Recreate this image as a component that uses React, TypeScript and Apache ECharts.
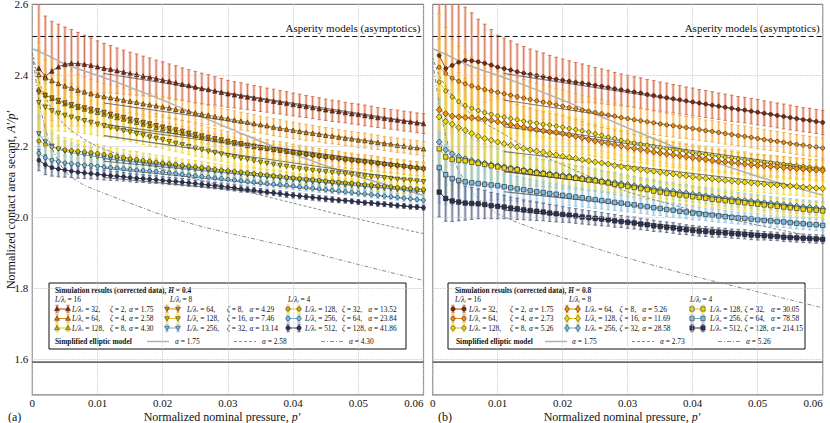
import React, { useEffect, useRef } from "react";
import * as echarts from "echarts";

const FONT = "Liberation Serif";
const LEG_FS = 7.4;
const LEG_SUB_FS = 5.0;
const LEG_GAP = 2.5;

// ---------- axes ----------
const X_MIN = 0, X_MAX = 0.06, X_STEP = 0.01;
const Y_MIN = 1.5, Y_MAX = 2.6, Y_STEP = 0.1;
const Y_GRID = [1.6, 1.8, 2.0, 2.2, 2.4];
const ASPERITY = 2.507;
const PERSSON = 1.592;

const PRESSURE = [
  0.001, 0.002, 0.003, 0.004, 0.005, 0.006, 0.007, 0.008, 0.009, 0.010,
  0.011, 0.012, 0.013, 0.014, 0.015, 0.016, 0.017, 0.018, 0.019, 0.020,
  0.021, 0.022, 0.023, 0.024, 0.025, 0.026, 0.027, 0.028, 0.029, 0.030,
  0.031, 0.032, 0.033, 0.034, 0.035, 0.036, 0.037, 0.038, 0.039, 0.040,
  0.041, 0.042, 0.043, 0.044, 0.045, 0.046, 0.047, 0.048, 0.049, 0.050,
  0.051, 0.052, 0.053, 0.054, 0.055, 0.056, 0.057, 0.058, 0.059, 0.060,
];

// ---------- left panel (H = 0.4) ----------
const L_S32 = [
  2.420, 2.397, 2.412, 2.424, 2.431, 2.434, 2.433, 2.431, 2.428, 2.424,
  2.420, 2.417, 2.413, 2.409, 2.405, 2.402, 2.398, 2.395, 2.391, 2.387,
  2.383, 2.379, 2.375, 2.371, 2.367, 2.363, 2.360, 2.356, 2.352, 2.348,
  2.345, 2.342, 2.339, 2.336, 2.333, 2.330, 2.327, 2.324, 2.321, 2.318,
  2.315, 2.312, 2.309, 2.306, 2.303, 2.300, 2.298, 2.295, 2.292, 2.290,
  2.287, 2.284, 2.281, 2.279, 2.276, 2.274, 2.271, 2.269, 2.266, 2.264,
];
const L_S64_UP = [
  2.402, 2.393, 2.385, 2.377, 2.370, 2.364, 2.358, 2.353, 2.348, 2.344,
  2.340, 2.337, 2.334, 2.330, 2.327, 2.324, 2.320, 2.317, 2.314, 2.311,
  2.308, 2.304, 2.301, 2.298, 2.294, 2.291, 2.288, 2.284, 2.281, 2.278,
  2.274, 2.271, 2.268, 2.264, 2.261, 2.258, 2.254, 2.251, 2.248, 2.245,
  2.242, 2.239, 2.237, 2.234, 2.231, 2.229, 2.226, 2.223, 2.221, 2.218,
  2.216, 2.213, 2.211, 2.208, 2.206, 2.203, 2.201, 2.198, 2.196, 2.193,
];
const L_S128_UP = [
  2.360, 2.345, 2.335, 2.327, 2.320, 2.315, 2.310, 2.305, 2.300, 2.296,
  2.291, 2.286, 2.281, 2.277, 2.272, 2.268, 2.263, 2.259, 2.254, 2.250,
  2.246, 2.242, 2.238, 2.235, 2.231, 2.227, 2.223, 2.219, 2.216, 2.212,
  2.209, 2.206, 2.202, 2.199, 2.196, 2.194, 2.191, 2.189, 2.186, 2.184,
  2.182, 2.179, 2.177, 2.174, 2.172, 2.170, 2.168, 2.165, 2.163, 2.161,
  2.159, 2.157, 2.154, 2.152, 2.150, 2.148, 2.146, 2.144, 2.142, 2.140,
];
const L_S64_DN = [
  2.352, 2.343, 2.336, 2.329, 2.322, 2.317, 2.312, 2.308, 2.304, 2.300,
  2.295, 2.290, 2.285, 2.281, 2.276, 2.272, 2.267, 2.263, 2.258, 2.254,
  2.250, 2.246, 2.242, 2.237, 2.233, 2.229, 2.225, 2.221, 2.218, 2.214,
  2.210, 2.207, 2.203, 2.200, 2.196, 2.193, 2.190, 2.188, 2.185, 2.182,
  2.179, 2.176, 2.173, 2.171, 2.168, 2.166, 2.164, 2.161, 2.159, 2.157,
  2.155, 2.153, 2.150, 2.148, 2.146, 2.144, 2.142, 2.139, 2.137, 2.135,
];
const L_S128_DN = [
  2.323, 2.310, 2.300, 2.293, 2.287, 2.282, 2.277, 2.272, 2.267, 2.262,
  2.258, 2.253, 2.249, 2.244, 2.240, 2.235, 2.231, 2.226, 2.222, 2.218,
  2.213, 2.208, 2.204, 2.199, 2.194, 2.190, 2.186, 2.182, 2.178, 2.174,
  2.170, 2.166, 2.163, 2.159, 2.155, 2.152, 2.149, 2.146, 2.143, 2.140,
  2.137, 2.135, 2.132, 2.130, 2.128, 2.126, 2.124, 2.122, 2.120, 2.118,
  2.116, 2.114, 2.113, 2.111, 2.109, 2.107, 2.105, 2.104, 2.102, 2.100,
];
const L_S256_DN = [
  2.235, 2.212, 2.200, 2.192, 2.186, 2.182, 2.179, 2.176, 2.173, 2.170,
  2.167, 2.165, 2.162, 2.160, 2.157, 2.155, 2.153, 2.150, 2.148, 2.146,
  2.144, 2.142, 2.140, 2.138, 2.136, 2.134, 2.132, 2.130, 2.128, 2.126,
  2.124, 2.122, 2.120, 2.118, 2.116, 2.114, 2.112, 2.110, 2.108, 2.106,
  2.104, 2.102, 2.100, 2.099, 2.097, 2.095, 2.093, 2.091, 2.090, 2.088,
  2.086, 2.085, 2.083, 2.082, 2.080, 2.078, 2.077, 2.075, 2.074, 2.072,
];
const L_S128_C = [
  2.215, 2.205, 2.198, 2.194, 2.190, 2.188, 2.186, 2.184, 2.182, 2.180,
  2.177, 2.174, 2.171, 2.168, 2.165, 2.163, 2.160, 2.158, 2.155, 2.153,
  2.151, 2.149, 2.146, 2.144, 2.142, 2.140, 2.138, 2.135, 2.133, 2.131,
  2.129, 2.127, 2.125, 2.123, 2.121, 2.119, 2.117, 2.115, 2.113, 2.111,
  2.109, 2.107, 2.106, 2.104, 2.102, 2.100, 2.099, 2.097, 2.096, 2.094,
  2.092, 2.091, 2.089, 2.088, 2.086, 2.084, 2.083, 2.081, 2.080, 2.078,
];
const L_S256_C = [
  2.180, 2.168, 2.161, 2.157, 2.153, 2.151, 2.149, 2.147, 2.146, 2.144,
  2.142, 2.140, 2.139, 2.137, 2.135, 2.133, 2.132, 2.130, 2.129, 2.127,
  2.125, 2.123, 2.121, 2.119, 2.117, 2.115, 2.113, 2.111, 2.109, 2.107,
  2.105, 2.103, 2.101, 2.099, 2.097, 2.095, 2.093, 2.092, 2.090, 2.088,
  2.086, 2.084, 2.082, 2.080, 2.078, 2.076, 2.074, 2.072, 2.070, 2.068,
  2.066, 2.064, 2.062, 2.060, 2.058, 2.056, 2.054, 2.052, 2.050, 2.048,
];
const L_S512_C = [
  2.161, 2.148, 2.140, 2.136, 2.133, 2.130, 2.127, 2.125, 2.123, 2.121,
  2.119, 2.117, 2.116, 2.114, 2.112, 2.110, 2.109, 2.107, 2.106, 2.104,
  2.102, 2.101, 2.099, 2.097, 2.095, 2.093, 2.091, 2.089, 2.087, 2.085,
  2.083, 2.080, 2.078, 2.076, 2.073, 2.071, 2.069, 2.067, 2.064, 2.062,
  2.060, 2.058, 2.056, 2.054, 2.052, 2.050, 2.048, 2.047, 2.045, 2.043,
  2.041, 2.040, 2.038, 2.037, 2.035, 2.033, 2.032, 2.030, 2.029, 2.027,
];

// error half-widths, in thousandths
const L_S32_ERR = [
  190, 170, 140, 120, 105, 95, 88, 82, 77, 73, 70, 67, 64, 62, 60, 58, 56, 54, 52, 51,
  49, 48, 46, 45, 44, 43, 42, 40, 39, 38, 37, 37, 36, 35, 35, 34, 34, 33, 33, 32,
  32, 31, 31, 31, 30, 30, 30, 29, 29, 29, 29, 29, 28, 28, 28, 28, 28, 28, 28, 28,
];
const L_S64_UP_ERR = [
  90, 75, 65, 58, 52, 48, 45, 42, 40, 38, 37, 36, 35, 34, 33, 33, 32, 32, 31, 30,
  30, 29, 29, 28, 28, 28, 27, 27, 26, 26, 26, 25, 25, 25, 24, 24, 24, 24, 23, 23,
  23, 23, 22, 22, 22, 22, 21, 21, 21, 21, 21, 21, 20, 20, 20, 20, 20, 20, 20, 20,
];
const L_S128_UP_ERR = [
  60, 52, 45, 41, 38, 35, 33, 31, 29, 28, 27, 26, 25, 24, 23, 22, 22, 21, 21, 20,
  20, 19, 19, 19, 18, 18, 18, 17, 17, 17, 17, 16, 16, 16, 16, 16, 15, 15, 15, 15,
  15, 15, 14, 14, 14, 14, 14, 14, 14, 14, 14, 13, 13, 13, 13, 13, 13, 13, 13, 13,
];
const L_S64_DN_ERR = [
  120, 100, 80, 72, 65, 60, 55, 51, 48, 45, 43, 41, 40, 38, 37, 36, 35, 34, 34, 33,
  32, 32, 31, 31, 30, 30, 29, 29, 28, 28, 28, 27, 27, 26, 26, 26, 25, 25, 25, 24,
  24, 24, 23, 23, 23, 22, 22, 22, 22, 21, 21, 21, 21, 21, 20, 20, 20, 20, 20, 20,
];
const L_S128_DN_ERR = [
  80, 67, 55, 50, 45, 42, 39, 36, 34, 32, 31, 30, 29, 28, 27, 26, 26, 25, 25, 24,
  24, 23, 23, 22, 22, 21, 21, 21, 20, 20, 20, 19, 19, 19, 19, 18, 18, 18, 18, 18,
  17, 17, 17, 17, 17, 17, 16, 16, 16, 16, 16, 16, 16, 16, 16, 16, 16, 16, 16, 16,
];
const L_S256_DN_ERR = [
  50, 42, 37, 33, 30, 28, 26, 25, 23, 22, 21, 21, 20, 19, 19, 18, 18, 17, 17, 16,
  16, 16, 15, 15, 15, 15, 14, 14, 14, 14, 14, 13, 13, 13, 13, 13, 13, 12, 12, 12,
  12, 12, 12, 12, 12, 12, 12, 11, 11, 11, 11, 11, 11, 11, 11, 11, 11, 11, 11, 11,
];
const L_S128_C_ERR = [
  60, 50, 43, 38, 35, 33, 31, 29, 27, 26, 25, 24, 24, 23, 22, 22, 21, 21, 20, 20,
  19, 19, 18, 18, 18, 17, 17, 17, 16, 16, 16, 16, 16, 15, 15, 15, 15, 15, 14, 14,
  14, 14, 14, 14, 14, 14, 13, 13, 13, 13, 13, 13, 13, 13, 13, 13, 13, 13, 13, 13,
];
const L_S256_C_ERR = [
  35, 30, 26, 24, 22, 21, 20, 19, 18, 17, 17, 16, 16, 15, 15, 14, 14, 14, 13, 13,
  13, 13, 12, 12, 12, 12, 11, 11, 11, 11, 11, 11, 11, 10, 10, 10, 10, 10, 10, 10,
  10, 10, 10, 10, 9, 9, 9, 9, 9, 9, 9, 9, 9, 9, 9, 9, 9, 9, 9, 9,
];
const L_S512_C_ERR = [
  30, 28, 24, 22, 20, 18, 17, 16, 15, 14, 14, 13, 13, 12, 12, 12, 11, 11, 11, 10,
  10, 10, 10, 10, 9, 9, 9, 9, 9, 9, 9, 9, 8, 8, 8, 8, 8, 8, 8, 8,
  8, 8, 8, 8, 8, 8, 7, 7, 7, 7, 7, 7, 7, 7, 7, 7, 7, 7, 7, 7,
];

// ---------- right panel (H = 0.8) ----------
const R_S32 = [
  2.456, 2.419, 2.428, 2.437, 2.442, 2.441, 2.438, 2.434, 2.429, 2.423,
  2.419, 2.415, 2.410, 2.406, 2.402, 2.399, 2.396, 2.392, 2.389, 2.386,
  2.383, 2.380, 2.378, 2.375, 2.372, 2.369, 2.366, 2.362, 2.359, 2.356,
  2.353, 2.350, 2.346, 2.343, 2.340, 2.337, 2.334, 2.331, 2.328, 2.325,
  2.322, 2.319, 2.316, 2.313, 2.310, 2.307, 2.304, 2.302, 2.299, 2.296,
  2.293, 2.290, 2.287, 2.284, 2.281, 2.278, 2.275, 2.273, 2.270, 2.267,
];
const R_S64_C = [
  2.423, 2.405, 2.392, 2.383, 2.376, 2.370, 2.365, 2.360, 2.356, 2.352,
  2.348, 2.344, 2.340, 2.336, 2.332, 2.328, 2.324, 2.321, 2.317, 2.313,
  2.309, 2.306, 2.302, 2.299, 2.295, 2.292, 2.288, 2.285, 2.281, 2.278,
  2.275, 2.272, 2.269, 2.266, 2.263, 2.260, 2.258, 2.255, 2.253, 2.250,
  2.247, 2.244, 2.242, 2.239, 2.236, 2.233, 2.230, 2.228, 2.225, 2.222,
  2.219, 2.216, 2.214, 2.211, 2.208, 2.205, 2.203, 2.200, 2.198, 2.195,
];
const R_S128_C = [
  2.381, 2.356, 2.339, 2.326, 2.315, 2.307, 2.301, 2.295, 2.290, 2.285,
  2.282, 2.278, 2.275, 2.271, 2.268, 2.265, 2.262, 2.260, 2.257, 2.254,
  2.250, 2.247, 2.244, 2.240, 2.235, 2.231, 2.226, 2.222, 2.217, 2.213,
  2.209, 2.206, 2.203, 2.199, 2.196, 2.193, 2.190, 2.188, 2.185, 2.182,
  2.179, 2.177, 2.174, 2.172, 2.169, 2.167, 2.164, 2.162, 2.159, 2.157,
  2.155, 2.153, 2.151, 2.149, 2.147, 2.145, 2.143, 2.141, 2.139, 2.137,
];
const R_S64_D = [
  2.303, 2.292, 2.285, 2.283, 2.281, 2.280, 2.278, 2.276, 2.273, 2.269,
  2.265, 2.261, 2.257, 2.254, 2.250, 2.247, 2.244, 2.241, 2.239, 2.236,
  2.232, 2.228, 2.224, 2.219, 2.215, 2.211, 2.208, 2.204, 2.201, 2.197,
  2.194, 2.191, 2.188, 2.184, 2.181, 2.178, 2.176, 2.173, 2.171, 2.168,
  2.165, 2.163, 2.160, 2.158, 2.156, 2.154, 2.152, 2.150, 2.148, 2.146,
  2.145, 2.143, 2.142, 2.140, 2.139, 2.137, 2.136, 2.134, 2.133, 2.132,
];
const R_S128_D = [
  2.283, 2.270, 2.262, 2.253, 2.245, 2.236, 2.228, 2.222, 2.217, 2.212,
  2.207, 2.203, 2.198, 2.194, 2.190, 2.186, 2.183, 2.179, 2.176, 2.172,
  2.169, 2.166, 2.162, 2.159, 2.156, 2.153, 2.150, 2.146, 2.143, 2.140,
  2.137, 2.135, 2.132, 2.130, 2.127, 2.124, 2.122, 2.119, 2.117, 2.114,
  2.112, 2.110, 2.108, 2.106, 2.104, 2.102, 2.100, 2.099, 2.097, 2.095,
  2.094, 2.092, 2.091, 2.089, 2.088, 2.087, 2.085, 2.084, 2.082, 2.081,
];
const R_S256_D = [
  2.212, 2.190, 2.179, 2.171, 2.165, 2.160, 2.156, 2.152, 2.148, 2.145,
  2.142, 2.139, 2.136, 2.133, 2.130, 2.128, 2.125, 2.123, 2.120, 2.118,
  2.116, 2.113, 2.111, 2.108, 2.106, 2.103, 2.100, 2.098, 2.095, 2.092,
  2.089, 2.086, 2.084, 2.081, 2.078, 2.075, 2.073, 2.070, 2.068, 2.065,
  2.063, 2.060, 2.058, 2.055, 2.053, 2.051, 2.049, 2.047, 2.045, 2.043,
  2.041, 2.039, 2.037, 2.035, 2.033, 2.031, 2.029, 2.028, 2.026, 2.024,
];
const R_S128_S = [
  2.193, 2.170, 2.163, 2.161, 2.159, 2.155, 2.152, 2.149, 2.145, 2.142,
  2.139, 2.136, 2.134, 2.131, 2.128, 2.125, 2.123, 2.120, 2.118, 2.115,
  2.113, 2.110, 2.108, 2.105, 2.103, 2.100, 2.097, 2.093, 2.090, 2.087,
  2.084, 2.081, 2.078, 2.074, 2.071, 2.068, 2.066, 2.063, 2.061, 2.058,
  2.056, 2.054, 2.051, 2.049, 2.047, 2.045, 2.043, 2.041, 2.039, 2.037,
  2.035, 2.033, 2.031, 2.029, 2.027, 2.025, 2.023, 2.021, 2.020, 2.018,
];
const R_S256_S = [
  2.140, 2.120, 2.109, 2.104, 2.100, 2.097, 2.095, 2.093, 2.091, 2.089,
  2.086, 2.083, 2.080, 2.078, 2.075, 2.072, 2.070, 2.067, 2.065, 2.062,
  2.060, 2.057, 2.055, 2.052, 2.050, 2.047, 2.045, 2.042, 2.040, 2.037,
  2.035, 2.032, 2.030, 2.027, 2.025, 2.022, 2.020, 2.017, 2.015, 2.012,
  2.010, 2.008, 2.006, 2.004, 2.002, 2.000, 1.998, 1.997, 1.995, 1.993,
  1.991, 1.990, 1.988, 1.987, 1.985, 1.983, 1.982, 1.980, 1.979, 1.977,
];
const R_S512_S = [
  2.071, 2.053, 2.046, 2.043, 2.040, 2.039, 2.038, 2.036, 2.033, 2.031,
  2.029, 2.026, 2.024, 2.021, 2.019, 2.017, 2.015, 2.012, 2.010, 2.008,
  2.006, 2.004, 2.001, 1.999, 1.997, 1.995, 1.993, 1.990, 1.988, 1.986,
  1.984, 1.981, 1.979, 1.976, 1.974, 1.972, 1.970, 1.967, 1.965, 1.963,
  1.961, 1.960, 1.958, 1.957, 1.956, 1.954, 1.953, 1.952, 1.950, 1.949,
  1.948, 1.947, 1.946, 1.944, 1.943, 1.942, 1.941, 1.940, 1.939, 1.938,
];

const R_S32_ERR = [
  250, 220, 190, 170, 150, 135, 120, 110, 100, 90, 86, 82, 78, 75, 72, 69, 67, 64, 62, 60,
  58, 56, 54, 52, 50, 49, 48, 46, 45, 44, 43, 43, 42, 42, 41, 41, 40, 40, 39, 39,
  38, 38, 38, 37, 37, 37, 36, 36, 36, 36, 35, 35, 35, 35, 35, 34, 34, 34, 34, 34,
];
const R_S64_C_ERR = [
  150, 130, 110, 98, 90, 82, 75, 70, 65, 60, 58, 56, 54, 52, 50, 49, 48, 47, 46, 45,
  44, 43, 42, 41, 40, 39, 38, 37, 36, 35, 35, 34, 34, 33, 33, 32, 32, 32, 31, 31,
  31, 30, 30, 30, 30, 29, 29, 29, 29, 29, 29, 28, 28, 28, 28, 28, 28, 28, 28, 28,
];
const R_S128_C_ERR = [
  120, 105, 92, 80, 70, 65, 60, 56, 53, 50, 48, 46, 44, 42, 41, 40, 39, 38, 36, 35,
  34, 33, 32, 31, 30, 30, 29, 29, 28, 28, 27, 27, 26, 26, 26, 25, 25, 25, 24, 24,
  24, 24, 23, 23, 23, 23, 23, 23, 22, 22, 22, 22, 22, 22, 22, 22, 22, 22, 22, 22,
];
const R_S64_D_ERR = [
  200, 170, 140, 125, 110, 98, 88, 80, 75, 70, 67, 64, 61, 58, 56, 54, 53, 52, 51, 50,
  48, 47, 46, 45, 44, 43, 42, 41, 41, 40, 39, 38, 37, 37, 36, 35, 35, 34, 34, 33,
  33, 32, 32, 32, 31, 31, 31, 31, 30, 30, 30, 30, 30, 30, 30, 30, 30, 30, 30, 30,
];
const R_S128_D_ERR = [
  150, 130, 115, 100, 90, 82, 75, 70, 65, 60, 57, 54, 52, 50, 48, 46, 45, 43, 42, 40,
  39, 38, 37, 36, 35, 34, 33, 33, 32, 31, 31, 30, 30, 29, 29, 28, 28, 28, 27, 27,
  27, 26, 26, 26, 26, 26, 25, 25, 25, 25, 25, 25, 25, 25, 25, 25, 25, 25, 25, 25,
];
const R_S256_D_ERR = [
  120, 100, 88, 78, 70, 64, 60, 56, 53, 50, 47, 45, 43, 41, 40, 39, 38, 37, 36, 35,
  34, 33, 32, 31, 30, 29, 29, 28, 27, 27, 26, 26, 25, 25, 24, 24, 24, 23, 23, 23,
  22, 22, 22, 22, 21, 21, 21, 21, 21, 21, 21, 20, 20, 20, 20, 20, 20, 20, 20, 20,
];
const R_S128_S_ERR = [
  120, 100, 88, 78, 70, 64, 60, 56, 53, 50, 47, 45, 43, 41, 40, 39, 38, 37, 36, 35,
  34, 33, 32, 31, 30, 29, 29, 28, 28, 27, 27, 26, 26, 26, 25, 25, 25, 24, 24, 24,
  24, 23, 23, 23, 23, 23, 22, 22, 22, 22, 22, 22, 22, 22, 22, 22, 22, 22, 22, 22,
];
const R_S256_S_ERR = [
  100, 85, 74, 66, 60, 55, 50, 46, 43, 40, 38, 36, 35, 33, 32, 31, 30, 29, 29, 28,
  27, 26, 26, 25, 25, 24, 24, 23, 23, 22, 22, 21, 21, 21, 20, 20, 20, 19, 19, 19,
  18, 18, 18, 18, 17, 17, 17, 17, 17, 17, 16, 16, 16, 16, 16, 16, 16, 16, 16, 16,
];
const R_S512_S_ERR = [
  70, 64, 58, 53, 48, 45, 42, 40, 37, 35, 33, 31, 30, 28, 27, 26, 25, 24, 23, 22,
  21, 21, 20, 20, 19, 19, 18, 18, 17, 17, 17, 16, 16, 16, 15, 15, 15, 15, 14, 14,
  14, 14, 14, 13, 13, 13, 13, 13, 13, 13, 12, 12, 12, 12, 12, 12, 12, 12, 12, 12,
];

// ---------- linear fits of the tails (start, end) ----------
const FIT_P = [0.011, 0.06];
const L_FIT_START = [2.405, 2.322, 2.262, 2.255, 2.230, 2.158, 2.165, 2.138, 2.112];
const L_FIT_END = [2.264, 2.193, 2.140, 2.135, 2.100, 2.072, 2.078, 2.048, 2.027];
const R_FIT_START = [2.405, 2.330, 2.262, 2.255, 2.185, 2.128, 2.130, 2.072, 2.020];
const R_FIT_END = [2.267, 2.195, 2.137, 2.132, 2.081, 2.024, 2.018, 1.977, 1.938];

// ---------- simplified elliptic model ----------
const ELL_P = [0, 0.001, 0.002, 0.003, 0.005, 0.0075, 0.01, 0.015, 0.02, 0.025, 0.03, 0.04, 0.05, 0.06];
const ELL_A175 = [2.475, 2.467, 2.459, 2.450, 2.432, 2.415, 2.400, 2.366, 2.330, 2.291, 2.252, 2.178, 2.115, 2.062];
const ELL_L_A258 = [2.465, 2.385, 2.340, 2.305, 2.260, 2.225, 2.200, 2.165, 2.135, 2.108, 2.085, 2.040, 1.995, 1.954];
const ELL_L_A430 = [2.465, 2.330, 2.250, 2.195, 2.130, 2.095, 2.075, 2.040, 2.006, 1.979, 1.956, 1.914, 1.867, 1.822];
const ELL_R_A273 = [2.450, 2.400, 2.370, 2.345, 2.305, 2.270, 2.245, 2.190, 2.148, 2.108, 2.072, 2.020, 1.978, 1.940];
const ELL_R_A526 = [2.440, 2.320, 2.230, 2.170, 2.100, 2.045, 2.010, 1.972, 1.943, 1.913, 1.885, 1.835, 1.790, 1.745];

// ---------- legend labels ----------
const L_LEGEND = [
  [["32,", "2,", "1.75"], ["64,", "4,", "2.58"], ["128,", "8,", "4.30"]],
  [["64,", "8,", "4.29"], ["128,", "16,", "7.46"], ["256,", "32,", "13.14"]],
  [["128,", "32,", "13.52"], ["256,", "64,", "23.84"], ["512,", "128,", "41.86"]],
];
const R_LEGEND = [
  [["32,", "2,", "1.75"], ["64,", "4,", "2.73"], ["128,", "8,", "5.26"]],
  [["64,", "8,", "5.26"], ["128,", "16,", "11.69"], ["256,", "32,", "28.58"]],
  [["128,", "32,", "30.05"], ["256,", "64,", "78.58"], ["512,", "128,", "214.15"]],
];
const GROUP_LABELS = ["16", "8", "4"];
const L_ALPHAS = ["1.75", "2.58", "4.30"];
const R_ALPHAS = ["1.75", "2.73", "5.26"];

// ---------- styles ----------
const C = {
  red: { line: "#a3391a", err: "#d2603a", pale: "rgba(234,156,126,0.5)", fill: "#7e2a12" },
  orange: { line: "#d98a12", err: "#f2a232", pale: "rgba(249,200,120,0.45)", fill: "#c27e10" },
  yellow: { line: "#e2c200", err: "#f0d020", pale: "rgba(247,228,110,0.45)", fill: "#cdb400" },
  blue: { line: "#6aaed4", err: "#8ec4e2", pale: "rgba(160,206,232,0.5)", fill: "#7ab8dc" },
  navy: { line: "#2c3254", err: "#585e80", pale: "rgba(112,118,152,0.4)", fill: "#2c3254" },
};

type Spec = { y: number[]; err: number[]; c: any; symbol: string; rotate: number; size: number; shape: string };

const LEFT_SPECS: Spec[] = [
  { y: L_S32, err: L_S32_ERR, c: C.red, symbol: "triangle", rotate: 0, size: 4.5, shape: "tri" },
  { y: L_S64_UP, err: L_S64_UP_ERR, c: C.orange, symbol: "triangle", rotate: 0, size: 4.5, shape: "tri" },
  { y: L_S128_UP, err: L_S128_UP_ERR, c: C.yellow, symbol: "triangle", rotate: 0, size: 4.5, shape: "tri" },
  { y: L_S64_DN, err: L_S64_DN_ERR, c: C.orange, symbol: "triangle", rotate: 180, size: 4.5, shape: "triDown" },
  { y: L_S128_DN, err: L_S128_DN_ERR, c: C.yellow, symbol: "triangle", rotate: 180, size: 4.5, shape: "triDown" },
  { y: L_S256_DN, err: L_S256_DN_ERR, c: C.blue, symbol: "triangle", rotate: 180, size: 4.5, shape: "triDown" },
  { y: L_S128_C, err: L_S128_C_ERR, c: C.yellow, symbol: "circle", rotate: 0, size: 4, shape: "circle" },
  { y: L_S256_C, err: L_S256_C_ERR, c: C.blue, symbol: "circle", rotate: 0, size: 4, shape: "circle" },
  { y: L_S512_C, err: L_S512_C_ERR, c: C.navy, symbol: "circle", rotate: 0, size: 4, shape: "circle" },
];
const RIGHT_SPECS: Spec[] = [
  { y: R_S32, err: R_S32_ERR, c: C.red, symbol: "circle", rotate: 0, size: 4, shape: "circle" },
  { y: R_S64_C, err: R_S64_C_ERR, c: { ...C.orange, fill: "#ee8a10" }, symbol: "circle", rotate: 0, size: 4, shape: "circle" },
  { y: R_S128_C, err: R_S128_C_ERR, c: { ...C.yellow, fill: "#e6d010" }, symbol: "circle", rotate: 0, size: 4, shape: "circle" },
  { y: R_S64_D, err: R_S64_D_ERR, c: { ...C.orange, fill: "#f08c10" }, symbol: "diamond", rotate: 0, size: 6, shape: "diamond" },
  { y: R_S128_D, err: R_S128_D_ERR, c: { ...C.yellow, fill: "#e8d410" }, symbol: "diamond", rotate: 0, size: 6, shape: "diamond" },
  { y: R_S256_D, err: R_S256_D_ERR, c: C.blue, symbol: "diamond", rotate: 0, size: 6, shape: "diamond" },
  { y: R_S128_S, err: R_S128_S_ERR, c: { ...C.yellow, fill: "#e8d410" }, symbol: "rect", rotate: 0, size: 4.5, shape: "square" },
  { y: R_S256_S, err: R_S256_S_ERR, c: C.blue, symbol: "rect", rotate: 0, size: 4.5, shape: "square" },
  { y: R_S512_S, err: R_S512_S_ERR, c: C.navy, symbol: "rect", rotate: 0, size: 4.5, shape: "square" },
];

// ---------- layout of the two panels ----------
const GRIDS = [
  { left: 32.3, top: 4.3, width: 391.2, height: 390.5 },
  { left: 432.7, top: 4.3, width: 390, height: 390.5 },
];
const LEGEND_LAYOUT = [
  {
    box: [49, 283, 357, 66], title: 55, headers: [55, 170, 288], sym: [57, 167, 288],
    txt: [72, 187, 305], zeta: [110, 227, 342], alpha: [127, 247, 367],
    bottomLabel: 55, samples: [147, 234, 321], sampleTexts: [175, 262, 349],
  },
  {
    box: [448, 283, 357, 66], title: 455, headers: [455, 569, 690], sym: [453, 567, 692],
    txt: [469, 585, 710], zeta: [510, 612, 742], alpha: [528, 637, 766],
    bottomLabel: 456, samples: [545, 632, 718], sampleTexts: [572, 660, 746],
  },
];
const ROW_Y = { title: 290, header: 299.5, rows: [309, 318.5, 328], bottom: 341.5 };
const AXIS_TITLES = {
  y: { x: 11, y: 200 },
  x: [{ x: 222, y: 416.5 }, { x: 622, y: 416.5 }],
  panel: [{ x: 8, y: 416.5, text: "(a)" }, { x: 438, y: 416.5, text: "(b)" }],
};

const ELL_STYLES = [
  { color: "#b0b0b0", width: 1.5, type: "solid" as any },
  { color: "#8a8a8a", width: 1, type: [3, 2] as any },
  { color: "#8a8a8a", width: 1, type: [4, 2, 1, 2] as any },
];

// ---------- text measuring (for legend column alignment) ----------
let measureCtx: CanvasRenderingContext2D | null = null;
function tw(text: string, size: number, italic = false, bold = false) {
  if (!measureCtx) measureCtx = document.createElement("canvas").getContext("2d");
  if (!measureCtx) return text.length * size * 0.5;
  measureCtx.font = `${italic ? "italic " : ""}${bold ? "bold " : ""}${size}px ${FONT}`;
  return measureCtx.measureText(text).width;
}

function errorSeries(spec: Spec, g: number) {
  return {
    type: "custom",
    xAxisIndex: g,
    yAxisIndex: g,
    z: 1,
    silent: true,
    data: PRESSURE.map((p, i) => [p, spec.y[i], spec.err[i] / 1000]),
    encode: { x: 0, y: 1 },
    renderItem: (params: any, api: any) => {
      const x = api.value(0), y = api.value(1), e = api.value(2);
      const cs = params.coordSys;
      const top = api.coord([x, y + e]);
      const bot = api.coord([x, y - e]);
      const t = Math.max(top[1], cs.y);
      const b = Math.min(bot[1], cs.y + cs.height);
      const cx = top[0];
      const st = { stroke: spec.c.err, lineWidth: 0.8 };
      const children: any[] = [
        { type: "rect", shape: { x: cx - 1.5, y: t, width: 3, height: Math.max(0, b - t) }, style: { fill: spec.c.pale } },
        { type: "line", shape: { x1: cx, y1: t, x2: cx, y2: b }, style: st },
      ];
      if (top[1] >= cs.y) children.push({ type: "line", shape: { x1: cx - 1.8, y1: t, x2: cx + 1.8, y2: t }, style: st });
      if (bot[1] <= cs.y + cs.height) children.push({ type: "line", shape: { x1: cx - 1.8, y1: b, x2: cx + 1.8, y2: b }, style: st });
      return { type: "group", children };
    },
  };
}

function dataSeries(spec: Spec, g: number) {
  return {
    type: "line",
    xAxisIndex: g,
    yAxisIndex: g,
    z: 4,
    silent: true,
    data: PRESSURE.map((p, i) => [p, spec.y[i]]),
    symbol: spec.symbol,
    symbolSize: spec.size,
    symbolRotate: spec.rotate,
    lineStyle: { color: spec.c.line, width: 1 },
    itemStyle: { color: spec.c.fill, borderColor: "#1e1e1e", borderWidth: 0.6 },
  };
}

function fitSeries(start: number, end: number, g: number) {
  return {
    type: "line",
    xAxisIndex: g,
    yAxisIndex: g,
    z: 3,
    silent: true,
    symbol: "none",
    data: [[FIT_P[0], start], [FIT_P[1], end]],
    lineStyle: { color: "#4a4a4a", width: 1.1, opacity: 0.75 },
  };
}

function ellSeries(values: number[], style: any, g: number) {
  return {
    type: "line",
    xAxisIndex: g,
    yAxisIndex: g,
    z: 2,
    silent: true,
    symbol: "none",
    smooth: 0.3,
    data: ELL_P.map((p, i) => [p, values[i]]),
    lineStyle: { color: style.color, width: style.width, type: style.type },
  };
}

function refSeries(g: number) {
  return {
    type: "line",
    xAxisIndex: g,
    yAxisIndex: g,
    z: 2,
    silent: true,
    symbol: "none",
    data: [[X_MIN, PERSSON], [X_MAX, PERSSON]],
    lineStyle: { color: "#6a6a6a", width: 1.6 },
    markLine: {
      silent: true,
      symbol: "none",
      animation: false,
      data: [
        ...Y_GRID.map((v) => ({
          yAxis: v,
          lineStyle: { color: "#c4c4c4", type: "dotted", width: 0.9 },
          label: { show: false },
        })),
        {
          yAxis: ASPERITY,
          lineStyle: { color: "#111", type: [5, 3], width: 1.2 },
          label: {
            show: true, position: "insideEndTop", formatter: "Asperity models (asymptotics)",
            color: "#111", fontFamily: FONT, fontSize: 11, distance: 3,
          },
        },
        {
          yAxis: PERSSON,
          lineStyle: { opacity: 0 },
          label: {
            show: true, position: "insideEndBottom", formatter: "Persson's model",
            color: "#111", fontFamily: FONT, fontSize: 11, distance: 3,
          },
        },
      ],
    },
  };
}

const RICH = {
  i: { fontStyle: "italic", fontFamily: FONT, fontSize: LEG_FS, fill: "#111" },
  s: { fontStyle: "italic", fontFamily: FONT, fontSize: LEG_SUB_FS, fill: "#111", padding: [3, 0, 0, 0] },
  n: { fontFamily: FONT, fontSize: LEG_FS, fill: "#111" },
  b: { fontFamily: FONT, fontSize: LEG_FS, fontWeight: "bold", fill: "#111" },
  bi: { fontFamily: FONT, fontSize: LEG_FS, fontWeight: "bold", fontStyle: "italic", fill: "#111" },
};
const RICH12 = {
  n: { fontFamily: FONT, fontSize: 12, fill: "#111" },
  i: { fontFamily: FONT, fontSize: 12, fontStyle: "italic", fill: "#111" },
};

function txt(x: number, y: number, text: string) {
  return {
    type: "text",
    x,
    y,
    silent: true,
    style: { text, fontFamily: FONT, fontSize: LEG_FS, fill: "#111", verticalAlign: "middle", rich: RICH },
  };
}

function markerEl(shape: string, cx: number, cy: number, fill: string) {
  const st = { fill, stroke: "#1e1e1e", lineWidth: 0.5 };
  if (shape === "tri") return { type: "polygon", shape: { points: [[cx, cy - 2.6], [cx + 2.5, cy + 1.8], [cx - 2.5, cy + 1.8]] }, style: st };
  if (shape === "triDown") return { type: "polygon", shape: { points: [[cx, cy + 2.6], [cx + 2.5, cy - 1.8], [cx - 2.5, cy - 1.8]] }, style: st };
  if (shape === "diamond") return { type: "polygon", shape: { points: [[cx, cy - 3.2], [cx + 2.5, cy], [cx, cy + 3.2], [cx - 2.5, cy]] }, style: st };
  if (shape === "square") return { type: "rect", shape: { x: cx - 2.2, y: cy - 2.2, width: 4.4, height: 4.4 }, style: st };
  return { type: "circle", shape: { cx, cy, r: 2.2 }, style: st };
}

function legendSymbol(x: number, y: number, spec: Spec) {
  const els: any[] = [
    { type: "line", shape: { x1: x, y1: y, x2: x + 11, y2: y }, style: { stroke: spec.c.line, lineWidth: 1 } },
  ];
  [x, x + 11].forEach((xx) => {
    els.push({ type: "rect", shape: { x: xx - 1.5, y: y - 3.8, width: 3, height: 7.6 }, style: { fill: spec.c.pale } });
    els.push({ type: "line", shape: { x1: xx, y1: y - 3.8, x2: xx, y2: y + 3.8 }, style: { stroke: spec.c.err, lineWidth: 0.8 } });
    els.push({ type: "line", shape: { x1: xx - 1.6, y1: y - 3.8, x2: xx + 1.6, y2: y - 3.8 }, style: { stroke: spec.c.err, lineWidth: 0.8 } });
    els.push({ type: "line", shape: { x1: xx - 1.6, y1: y + 3.8, x2: xx + 1.6, y2: y + 3.8 }, style: { stroke: spec.c.err, lineWidth: 0.8 } });
    els.push(markerEl(spec.shape, xx, y, spec.c.fill));
  });
  return els;
}

function lsWidth(v: string) {
  return tw("L/λ", LEG_FS, true) + tw("s", LEG_SUB_FS, true) + tw(` = ${v}`, LEG_FS);
}
function greekWidth(g: string, v: string) {
  return tw(g, LEG_FS, true) + tw(` = ${v}`, LEG_FS);
}

function legendGraphics(panel: number) {
  const L = LEGEND_LAYOUT[panel];
  const specs = panel === 0 ? LEFT_SPECS : RIGHT_SPECS;
  const labels = panel === 0 ? L_LEGEND : R_LEGEND;
  const alphas = panel === 0 ? L_ALPHAS : R_ALPHAS;
  const H = panel === 0 ? "0.4" : "0.8";
  const els: any[] = [
    {
      type: "rect",
      shape: { x: L.box[0], y: L.box[1], width: L.box[2], height: L.box[3] },
      style: { fill: "#fff", stroke: "#111", lineWidth: 1 },
    },
    txt(L.title, ROW_Y.title, `{b|Simulation results (corrected data), }{bi|H}{b| = ${H}}`),
  ];
  for (let c = 0; c < 3; c++) {
    els.push(txt(L.headers[c], ROW_Y.header, `{i|L/λ}{s|l}{n| = ${GROUP_LABELS[c]}}`));
    const col = labels[c];
    const wTxt = Math.max(...col.map((r) => lsWidth(r[0])));
    const xZeta = Math.max(L.zeta[c], L.txt[c] + wTxt + LEG_GAP);
    const wZeta = Math.max(...col.map((r) => greekWidth("ζ", r[1])));
    const xAlpha = Math.max(L.alpha[c], xZeta + wZeta + LEG_GAP);
    for (let r = 0; r < 3; r++) {
      const spec = specs[c * 3 + r];
      const y = ROW_Y.rows[r];
      els.push(...legendSymbol(L.sym[c], y, spec));
      const [ls, z, a] = col[r];
      els.push(txt(L.txt[c], y, `{i|L/λ}{s|s}{n| = ${ls}}`));
      els.push(txt(xZeta, y, `{i|ζ}{n| = ${z}}`));
      els.push(txt(xAlpha, y, `{i|α}{n| = ${a}}`));
    }
  }
  els.push(txt(L.bottomLabel, ROW_Y.bottom, "{b|Simplified elliptic model}"));
  for (let k = 0; k < 3; k++) {
    const st = ELL_STYLES[k];
    els.push({
      type: "line",
      shape: { x1: L.samples[k], y1: ROW_Y.bottom, x2: L.samples[k] + 22, y2: ROW_Y.bottom },
      style: { stroke: st.color, lineWidth: st.width, lineDash: st.type === "solid" ? null : st.type },
    });
    els.push(txt(L.sampleTexts[k], ROW_Y.bottom, `{i|α}{n| = ${alphas[k]}}`));
  }
  return { type: "group", children: els };
}

function titleGraphics() {
  const els: any[] = [
    {
      type: "text",
      x: AXIS_TITLES.y.x,
      y: AXIS_TITLES.y.y,
      rotation: Math.PI / 2,
      silent: true,
      style: {
        text: "{n|Normalized contact area secant, }{i|A′/p′}",
        fontFamily: FONT, fontSize: 12, fill: "#111",
        align: "center", verticalAlign: "middle", rich: RICH12,
      },
    },
  ];
  AXIS_TITLES.x.forEach((p) =>
    els.push({
      type: "text",
      x: p.x,
      y: p.y,
      silent: true,
      style: {
        text: "{n|Normalized nominal pressure, }{i|p′}",
        fontFamily: FONT, fontSize: 12, fill: "#111",
        align: "center", verticalAlign: "middle", rich: RICH12,
      },
    })
  );
  AXIS_TITLES.panel.forEach((p) =>
    els.push({
      type: "text",
      x: p.x,
      y: p.y,
      silent: true,
      style: { text: p.text, fontFamily: FONT, fontSize: 12, fill: "#111", verticalAlign: "middle" },
    })
  );
  return els;
}

function buildOption() {
  const series: any[] = [];
  [LEFT_SPECS, RIGHT_SPECS].forEach((specs, g) => {
    series.push(refSeries(g));
    specs.forEach((s) => series.push(errorSeries(s, g)));
    const ells = g === 0 ? [ELL_A175, ELL_L_A258, ELL_L_A430] : [ELL_A175, ELL_R_A273, ELL_R_A526];
    ells.forEach((v, k) => series.push(ellSeries(v, ELL_STYLES[k], g)));
    const fs = g === 0 ? L_FIT_START : R_FIT_START;
    const fe = g === 0 ? L_FIT_END : R_FIT_END;
    fs.forEach((v, k) => series.push(fitSeries(v, fe[k], g)));
    specs.forEach((s) => series.push(dataSeries(s, g)));
  });

  const xAxis = GRIDS.map((_, g) => ({
    type: "value",
    gridIndex: g,
    min: X_MIN,
    max: X_MAX,
    interval: X_STEP,
    axisLine: { show: false },
    axisTick: { show: false },
    axisLabel: { fontFamily: FONT, fontSize: 11, color: "#111", margin: 3, alignMaxLabel: "right" },
    splitLine: { show: true, lineStyle: { color: "#c4c4c4", type: "dotted", width: 0.9 } },
  }));
  const yAxis = GRIDS.map((_, g) => ({
    type: "value",
    gridIndex: g,
    min: Y_MIN,
    max: Y_MAX,
    interval: Y_STEP,
    axisLine: { show: false },
    axisTick: { show: false },
    axisLabel: {
      show: g === 0,
      fontFamily: FONT,
      fontSize: 11,
      color: "#111",
      margin: 4,
      formatter: (v: number) => (Math.round(v * 10) % 2 === 0 ? v.toFixed(1) : ""),
    },
    splitLine: { show: false },
  }));

  return {
    animation: false,
    backgroundColor: "#ffffff",
    textStyle: { fontFamily: FONT },
    grid: GRIDS.map((g) => ({
      ...g,
      show: true,
      borderColor: "#808080",
      borderWidth: 1.2,
      containLabel: false,
      outerBoundsMode: "none",
    })),
    xAxis,
    yAxis,
    series,
    graphic: [legendGraphics(0), legendGraphics(1), ...titleGraphics()],
  };
}

export default function App() {
  const ref = useRef<HTMLDivElement>(null);
  useEffect(() => {
    if (!ref.current) return;
    const chart = echarts.init(ref.current, undefined, { renderer: "svg" });
    chart.setOption(buildOption() as any);
    return () => chart.dispose();
  }, []);
  return (
    <div
      ref={ref}
      style={{ position: "fixed", left: 0, top: 0, width: 830, height: 423, background: "#fff" }}
    />
  );
}
